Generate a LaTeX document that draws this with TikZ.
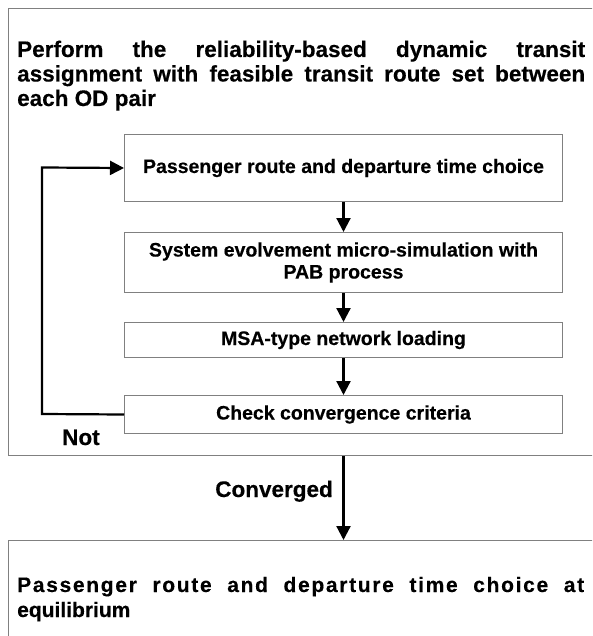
\documentclass[tikz,border=0pt]{standalone}
\usepackage{fontspec}
\setmainfont{Liberation Sans}[BoldFeatures={FakeBold=0.35}]
\newfontfamily\trackedB{Liberation Sans}[LetterSpace=8,BoldFeatures={FakeBold=0.35}]
\usetikzlibrary{arrows.meta}
\tikzset{
  frame/.style={draw=black!50, line width=1pt, inner sep=0pt, anchor=north west},
  stepbox/.style={frame, minimum width=438pt, align=center,
    font=\fontsize{19.5}{22}\selectfont\bfseries},
  bigtext/.style={inner sep=0pt, anchor=base west},
  flow/.style={line width=2.2pt, -{Triangle[width=14pt,length=14pt]}},
  tag/.style={inner sep=0pt, font=\fontsize{22.5}{26}\selectfont\bfseries}
}
\begin{document}
\begin{tikzpicture}[x=1pt,y=-1pt]
\useasboundingbox (0,0) rectangle (592,636);
\clip (0,0) rectangle (592,636);

% outer stage
\node[frame, minimum width=610pt, minimum height=447pt] (outer) at (8,8) {};
\node[bigtext] (title1) at (17,57)
  {\fontsize{22.5}{26}\selectfont\bfseries\makebox[568pt][s]{Perform the reliability-based dynamic transit}};
\node[bigtext] (title2) at (17,81.5)
  {\fontsize{22.5}{26}\selectfont\bfseries\makebox[568pt][s]{assignment with feasible transit route set between}};
\node[bigtext] (title3) at (17,106)
  {\fontsize{22.5}{26}\selectfont\bfseries each OD pair};

% iteration steps
\node[stepbox, minimum height=67pt] (choice) at (124,134) {Passenger route and departure time choice};
\node[stepbox, minimum height=60pt] (sim) at (124,232) {System evolvement micro-simulation with\\PAB process};
\node[stepbox, minimum height=35pt] (msa) at (124,322) {MSA-type network loading};
\node[stepbox, minimum height=38pt] (check) at (124,395) {Check convergence criteria};

\draw[flow] (choice) -- (sim);
\draw[flow] (sim) -- (msa);
\draw[flow] (msa) -- (check);

% feedback loop
\coordinate (loopbot) at (42,414);
\coordinate (looptop) at (42,167.5);
\draw[flow] (check.west) -- (loopbot) -- (looptop) -- (choice.west);
\node[tag, anchor=base west] (notlbl) at (62,445) {Not};

% final stage
\node[frame, minimum width=610pt, minimum height=130pt] (final) at (8,540) {};
\node[bigtext] (final1) at (17,592)
  {\fontsize{21}{25}\trackedB\bfseries\makebox[567pt][s]{Passenger route and departure time choice at}};
\node[bigtext] (final2) at (17,617)
  {\fontsize{21}{25}\selectfont\bfseries equilibrium};

\coordinate (exitpt) at (check.south |- outer.south);
\coordinate (entrypt) at (check.south |- final.north);
\draw[flow] (exitpt) -- (entrypt);
\node[tag, anchor=base east] (conv) at (333,497) {Converged};
\end{tikzpicture}
\end{document}
